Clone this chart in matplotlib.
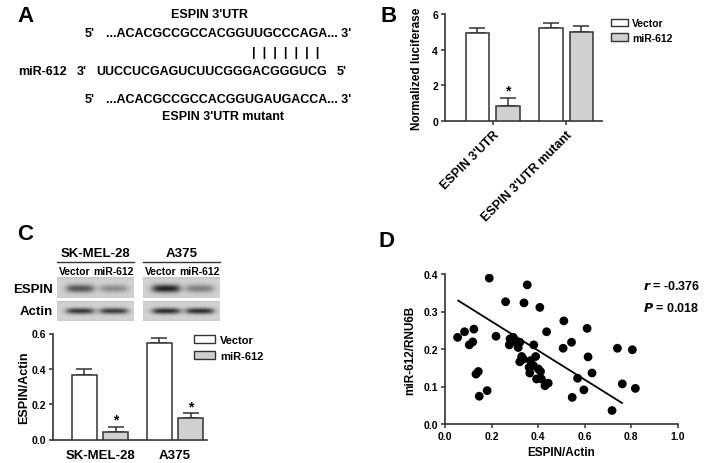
import numpy as np
import matplotlib
matplotlib.use("Agg")
import matplotlib.pyplot as plt
from matplotlib.patches import Patch

plt.rcParams.update({
    "font.family": ["Liberation Sans", "DejaVu Sans"],
    "font.weight": "bold",
    "axes.labelweight": "bold",
    "axes.linewidth": 1.2,
    "axes.edgecolor": "#333333",
    "xtick.color": "#333333",
    "ytick.color": "#333333",
    "xtick.labelcolor": "black",
    "ytick.labelcolor": "black",
})

# ---------------- data ----------------
seq_utr = "...ACACGCCGCCACGGUUGCCCAGA... 3'"
seq_mir = "UUCCUCGAGUCUUCGGGACGGGUCG"
seq_mut = "...ACACGCCGCCACGGUGAUGACCA... 3'"
pairing = "|  |  |  |  |  |  |"

luc_groups = ["ESPIN 3'UTR", "ESPIN 3'UTR mutant"]
luc_vector = [4.97, 5.25]
luc_vector_err = [0.25, 0.28]
luc_mir = [0.85, 5.02]
luc_mir_err = [0.45, 0.30]
luc_sig = [True, False]

wb_groups = ["SK-MEL-28", "A375"]
wb_vector = [0.365, 0.545]
wb_vector_err = [0.032, 0.027]
wb_mir = [0.045, 0.122]
wb_mir_err = [0.028, 0.027]
wb_sig = [True, True]
lane_labels = ["Vector", "miR-612"]
espin_band = [[0.50, 0.28], [0.70, 0.33]]
actin_band = [[0.62, 0.60], [0.66, 0.66]]

espin_actin = [0.054, 0.084, 0.124, 0.104, 0.119, 0.133, 0.143, 0.147, 0.181, 0.190,
               0.219, 0.260, 0.339, 0.353, 0.407, 0.436, 0.510, 0.507, 0.543, 0.610,
               0.614, 0.631, 0.569, 0.546, 0.596, 0.717, 0.740, 0.761, 0.804, 0.817,
               0.279, 0.293, 0.276, 0.300, 0.314, 0.321, 0.329, 0.321, 0.336, 0.381,
               0.389, 0.367, 0.361, 0.379, 0.364, 0.400, 0.410, 0.393, 0.414, 0.429,
               0.443]
mir_rnu6b = [0.231, 0.246, 0.253, 0.211, 0.219, 0.133, 0.140, 0.074, 0.089, 0.389,
             0.234, 0.326, 0.323, 0.371, 0.311, 0.246, 0.275, 0.202, 0.218, 0.255,
             0.179, 0.136, 0.122, 0.071, 0.091, 0.036, 0.202, 0.107, 0.198, 0.095,
             0.227, 0.231, 0.211, 0.219, 0.204, 0.218, 0.180, 0.166, 0.173, 0.211,
             0.180, 0.169, 0.151, 0.156, 0.136, 0.147, 0.140, 0.120, 0.120, 0.102,
             0.109]
fit_line_x = [0.057, 0.760]
fit_line_y = [0.329, 0.056]
r_text = "-0.376"
p_text = "0.018"

# ---------------- figure ----------------
W, H = 705, 464
fig = plt.figure(figsize=(W / 100, H / 100), dpi=100)
fig.patch.set_facecolor("white")


def ax_px(l, t, r, b):
    return fig.add_axes([l / W, 1 - b / H, (r - l) / W, (b - t) / H])


def ftext(x, y, s, **kw):
    kw.setdefault("va", "center")
    return fig.text(x / W, 1 - y / H, s, **kw)


EDGE = "#333333"
GREY = "#d0d0d0"
TICK_FS = 7.5

# ---------------- panel A ----------------
ftext(17, 17, "A", fontsize=16, ha="left")
ftext(209, 15, "ESPIN 3'UTR", fontsize=9, ha="center")
ftext(85, 34, "5'", fontsize=9, ha="left")
ftext(106, 34, seq_utr, fontsize=9, ha="left")
ftext(286, 53, pairing, fontsize=9, ha="center")
ftext(18, 72, "miR-612", fontsize=9, ha="left")
ftext(77, 72, "3'", fontsize=9, ha="left")
ftext(96, 72, seq_mir, fontsize=9, ha="left")
ftext(337, 72, "5'", fontsize=9, ha="left")
ftext(85, 100, "5'", fontsize=9, ha="left")
ftext(106, 100, seq_mut, fontsize=9, ha="left")
ftext(223, 117, "ESPIN 3'UTR mutant", fontsize=9, ha="center")


def style_ax(ax):
    for s in ("top", "right"):
        ax.spines[s].set_visible(False)
    ax.tick_params(direction="out", length=3, width=1.1, labelsize=TICK_FS, pad=2)
    for lab in ax.get_xticklabels() + ax.get_yticklabels():
        lab.set_fontweight("bold")


def grouped_bars(ax, vec, vec_err, mir, mir_err, sig, width, offset):
    x = np.arange(1, len(vec) + 1)
    b1 = ax.bar(x - offset, vec, width, color="white", edgecolor=EDGE, linewidth=1.1, zorder=3)
    b2 = ax.bar(x + offset, mir, width, color=GREY, edgecolor=EDGE, linewidth=1.1, zorder=3)
    ax.errorbar(x - offset, vec, yerr=[np.zeros(len(vec)), vec_err], fmt="none",
                ecolor=EDGE, elinewidth=1.1, capsize=5.5, capthick=1.1, zorder=2)
    ax.errorbar(x + offset, mir, yerr=[np.zeros(len(mir)), mir_err], fmt="none",
                ecolor=EDGE, elinewidth=1.1, capsize=5.5, capthick=1.1, zorder=2)
    for xi, v, e, s in zip(x + offset, mir, mir_err, sig):
        if s:
            ax.annotate("*", (xi, v + e), xytext=(0, 0), textcoords="offset points",
                        ha="center", va="bottom", fontsize=10, fontweight="bold")
    return x, b1, b2


# ---------------- panel B ----------------
ftext(380, 17, "B", fontsize=16, ha="left")
axB = ax_px(445, 15.3, 602, 122)
xB, b1, b2 = grouped_bars(axB, luc_vector, luc_vector_err, luc_mir, luc_mir_err,
                          luc_sig, 0.32, 0.207)
axB.set_xlim(1 - 0.647, 2 + 0.487)
axB.set_ylim(0, 6)
axB.set_yticks([0, 2, 4, 6])
axB.set_xticks(xB)
axB.set_xticklabels(luc_groups, rotation=45, ha="right", va="top",
                    rotation_mode="anchor", fontsize=9, fontweight="bold")
axB.set_ylabel("Normalized luciferase", fontsize=8.5, labelpad=7)
style_ax(axB)
axB.tick_params(axis="x", labelsize=9)
fig.legend([Patch(facecolor="white", edgecolor=EDGE, linewidth=1),
            Patch(facecolor=GREY, edgecolor=EDGE, linewidth=1)],
           ["Vector", "miR-612"], loc="upper left",
           bbox_to_anchor=(611 / W, 1 - 19 / H), frameon=False, fontsize=7.5,
           handlelength=1.6, handleheight=0.75, handletextpad=0.45,
           labelspacing=0.45, borderpad=0, borderaxespad=0)

# ---------------- panel C ----------------
ftext(17, 235, "C", fontsize=16, ha="left")
blot_cols = [(57, 134), (143, 220)]
for gi, (l, r) in enumerate(blot_cols):
    cx = (l + r) / 2
    ftext(cx, 254, wb_groups[gi], fontsize=9.5, ha="center")
    fig.add_artist(plt.Line2D([l / W, r / W], [1 - 263 / H, 1 - 263 / H],
                              color="#333333", linewidth=1.0))
    for li, lab in enumerate(lane_labels):
        lx = l + (r - l) * (0.23 if li == 0 else 0.73)
        ftext(lx, 272, lab, fontsize=7.5, ha="center")


def draw_blot(ax, intensities, band_y, sigma):
    h, w = 60, 200
    yy = np.linspace(0, 1, h)[:, None]
    xx = np.linspace(0, 1, w)[None, :]
    img = np.full((h, w), 0.83) - 0.06 * np.exp(-yy / 0.08) - 0.03 * np.exp(-(1 - yy) / 0.08)
    for c, inten in zip([0.30, 0.74], intensities):
        xprof = 1 / (1 + np.exp((np.abs(xx - c) - 0.17) / 0.03))
        yprof = np.exp(-0.5 * ((yy - band_y) / sigma) ** 2)
        img = img - inten * xprof * yprof
    ax.imshow(np.clip(img, 0, 1), cmap="gray", vmin=0, vmax=1, aspect="auto",
              extent=(0, 1, 1, 0), interpolation="bilinear")
    ax.set_axis_off()


for gi, (l, r) in enumerate(blot_cols):
    axe = ax_px(l, 278, r, 299)
    draw_blot(axe, espin_band[gi], 0.55, 0.14)
    axa = ax_px(l, 302, r, 322)
    draw_blot(axa, actin_band[gi], 0.5, 0.11)
ftext(53, 290, "ESPIN", fontsize=9.5, ha="right")
ftext(53, 312, "Actin", fontsize=9.5, ha="right")

axC = ax_px(53, 334.5, 207, 440.5)
xC, c1, c2 = grouped_bars(axC, wb_vector, wb_vector_err, wb_mir, wb_mir_err,
                          wb_sig, 0.333, 0.207)
axC.set_xlim(1 - 0.627, 2 + 0.427)
axC.set_ylim(0, 0.6)
axC.set_yticks([0.0, 0.2, 0.4, 0.6])
axC.set_yticklabels(["0.0", "0.2", "0.4", "0.6"])
axC.set_xticks(xC)
axC.set_xticklabels(wb_groups, fontsize=9.5, fontweight="bold")
axC.set_ylabel("ESPIN/Actin", fontsize=9, labelpad=1)
style_ax(axC)
axC.tick_params(axis="x", length=0, labelsize=9.5, pad=7)
fig.legend([Patch(facecolor="white", edgecolor=EDGE, linewidth=1),
            Patch(facecolor=GREY, edgecolor=EDGE, linewidth=1)],
           ["Vector", "miR-612"], loc="upper left",
           bbox_to_anchor=(194 / W, 1 - 336 / H), frameon=False, fontsize=8,
           handlelength=1.9, handleheight=0.75, handletextpad=0.45,
           labelspacing=0.5, borderpad=0, borderaxespad=0)

# ---------------- panel D ----------------
ftext(378, 242, "D", fontsize=16, ha="left")
axD = ax_px(445, 275, 678, 425)
axD.scatter(espin_actin, mir_rnu6b, s=40, color="black", edgecolors="none", zorder=3)
axD.plot(fit_line_x, fit_line_y, color="black", linewidth=1.3, zorder=2)
axD.set_xlim(0, 1.0)
axD.set_ylim(0, 0.4)
axD.set_xticks([0.0, 0.2, 0.4, 0.6, 0.8, 1.0])
axD.set_xticklabels(["0.0", "0.2", "0.4", "0.6", "0.8", "1.0"])
axD.set_yticks([0.0, 0.1, 0.2, 0.3, 0.4])
axD.set_yticklabels(["0.0", "0.1", "0.2", "0.3", "0.4"])
axD.set_xlabel("ESPIN/Actin", fontsize=8.5, labelpad=4)
axD.set_ylabel("miR-612/RNU6B", fontsize=8.5, labelpad=5)
style_ax(axD)
ftext(643, 287, "$\\mathbfit{r}$ = " + r_text, fontsize=9, ha="left")
ftext(643, 308, "$\\mathbfit{P}$ = " + p_text, fontsize=9, ha="left")

fig.savefig("out.png", dpi=100, facecolor="white")
